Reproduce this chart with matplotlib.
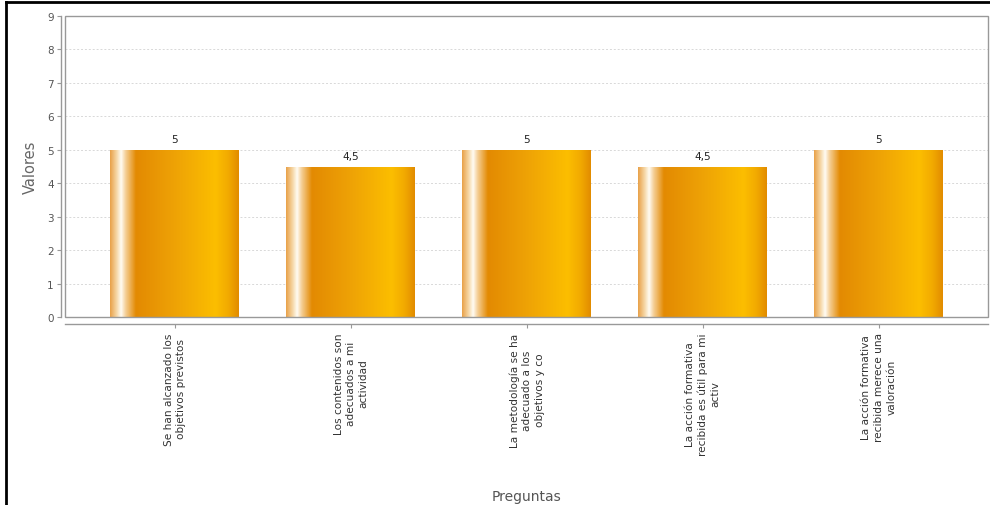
import numpy as np
import matplotlib
matplotlib.use("Agg")
import matplotlib.pyplot as plt
from matplotlib.colors import LinearSegmentedColormap, to_rgb
from matplotlib.lines import Line2D
from matplotlib.patches import Rectangle

categories = [
    "Se han alcanzado los\nobjetivos previstos",
    "Los contenidos son\nadecuados a mi\nactividad",
    "La metodología se ha\nadecuado a los\nobjetivos y co",
    "La acción formativa\nrecibida es útil para mi\nactiv",
    "La acción formativa\nrecibida merece una\nvaloración",
]
values = [5, 4.5, 5, 4.5, 5]
value_labels = ["5", "4,5", "5", "4,5", "5"]
y_ticks = [0, 1, 2, 3, 4, 5, 6, 7, 8, 9]

W, H = 990, 506
fig = plt.figure(figsize=(W / 100, H / 100), dpi=100)
fig.patch.set_facecolor("white")

ax = fig.add_axes([65 / W, (H - 318) / H, (988 - 65) / W, (318 - 17) / H])

stops = [
    (0.00, "#E9A24A"),
    (0.05, "#F6D7A6"),
    (0.085, "#FFFCF4"),
    (0.12, "#F5CF97"),
    (0.20, "#E38A02"),
    (0.50, "#EEA206"),
    (0.82, "#FCBE00"),
    (0.92, "#F2AA00"),
    (1.00, "#E28C00"),
]
cmap = LinearSegmentedColormap.from_list("bar", [(p, to_rgb(c)) for p, c in stops])
grad = np.linspace(0, 1, 256).reshape(1, -1)

ax.spines["top"].set_visible(False)
ax.spines["right"].set_visible(False)
ax.spines["left"].set_position(("outward", 3))
ax.spines["bottom"].set_position(("outward", 5))
for s in ("left", "bottom"):
    ax.spines[s].set_color("#999999")
    ax.spines[s].set_linewidth(1.0)

x = np.arange(len(categories))
bw = 0.733
bars = ax.bar(x, values, width=bw, facecolor="none", edgecolor="none", zorder=3)
for b in bars:
    x0, y0 = b.get_x(), b.get_y()
    im = ax.imshow(grad, cmap=cmap, aspect="auto", interpolation="bilinear",
                   extent=[x0, x0 + b.get_width(), y0, y0 + b.get_height()], zorder=3)
    im.set_clip_path(b)

for xi, v, lab in zip(x, values, value_labels):
    ax.annotate(lab, (xi, v), xytext=(0, 4), textcoords="offset points",
                ha="center", va="bottom", fontsize=7.5, color="#222222", zorder=5)

ax.set_xlim(-0.625, 4.62)
ax.set_ylim(0, 9)
ax.set_yticks(y_ticks)
ax.set_yticklabels([str(t) for t in y_ticks])
ax.set_xticks(x)
ax.set_xticklabels(categories, rotation=90, fontsize=7.6, color="#333333",
                   multialignment="center", linespacing=1.3)

for yv in y_ticks[1:-1]:
    ax.axhline(yv, color="#d8d8d8", lw=0.7, ls=(0, (2, 2)), zorder=1)

ax.add_patch(Rectangle((0, 0), 1, 1, transform=ax.transAxes, fill=False,
                       edgecolor="#999999", lw=1.0, clip_on=False, zorder=4))

ax.tick_params(axis="y", length=3, width=0.8, color="#999999", labelsize=7.5,
               labelcolor="#555555", pad=2)
ax.tick_params(axis="x", length=3, width=0.8, color="#999999", pad=3)

ax.set_ylabel("Valores", fontsize=10.5, color="#666666")
ax.yaxis.set_label_coords(-(65 - 38) / (988 - 65), 0.5)
ax.set_xlabel("Preguntas", fontsize=10, color="#555555")
ax.xaxis.set_label_coords(0.5, -(490 - 318) / (318 - 17))

fig.add_artist(Line2D([6 / W, 6 / W], [0, (H - 3) / H], transform=fig.transFigure,
                      color="black", lw=2))
fig.add_artist(Line2D([6 / W, 1], [(H - 3) / H, (H - 3) / H], transform=fig.transFigure,
                      color="black", lw=2))

fig.savefig("out.png", dpi=100)
